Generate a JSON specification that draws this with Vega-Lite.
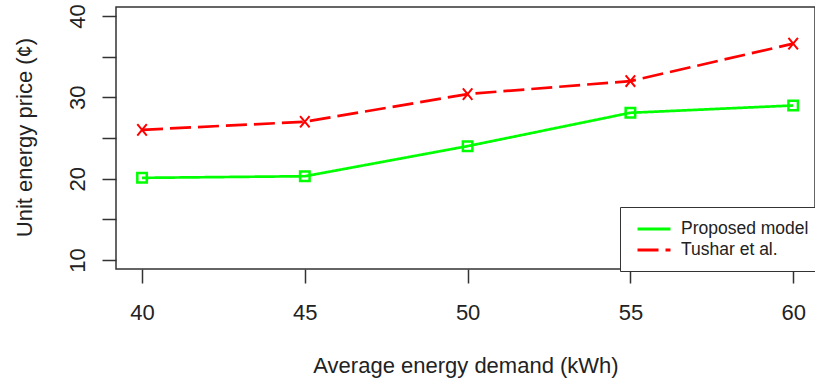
{
  "$schema": "https://vega.github.io/schema/vega-lite/v6.json",
  "autosize": {"type": "none"},
  "padding": {"left": 116, "top": 7, "right": 0, "bottom": 114},
  "width": 699,
  "height": 262,
  "background": "white",
  "config": {
    "view": {"stroke": "#333", "strokeWidth": 1.5},
    "font": "Liberation Sans"
  },
  "data": {
    "values": [
      {"demand": 40, "price": 20.1, "series": "Proposed model"},
      {"demand": 45, "price": 20.3, "series": "Proposed model"},
      {"demand": 50, "price": 24.0, "series": "Proposed model"},
      {"demand": 55, "price": 28.1, "series": "Proposed model"},
      {"demand": 60, "price": 29.0, "series": "Proposed model"},
      {"demand": 40, "price": 26.0, "series": "Tushar et al."},
      {"demand": 45, "price": 27.0, "series": "Tushar et al."},
      {"demand": 50, "price": 30.4, "series": "Tushar et al."},
      {"demand": 55, "price": 32.0, "series": "Tushar et al."},
      {"demand": 60, "price": 36.6, "series": "Tushar et al."}
    ]
  },
  "encoding": {
    "x": {
      "field": "demand", "type": "quantitative",
      "scale": {"domain": [39.2, 60.67], "nice": false, "zero": false},
      "axis": {
        "title": "Average energy demand (kWh)",
        "values": [40, 45, 50, 55, 60],
        "grid": false, "domain": false,
        "tickSize": 14, "tickWidth": 1.5, "tickColor": "#333",
        "labelFontSize": 22, "labelColor": "#222", "labelBaseline": "alphabetic", "labelPadding": 36,
        "labelFlush": false, "labelOverlap": false,
        "titleFontSize": 22, "titleFontWeight": "normal", "titleColor": "#222",
        "titleBaseline": "alphabetic", "titleY": 103
      }
    },
    "y": {
      "field": "price", "type": "quantitative",
      "scale": {"domain": [8.893, 41.107], "nice": false, "zero": false},
      "axis": {
        "title": "Unit energy price (¢)",
        "values": [10, 15, 20, 25, 30, 35, 40],
        "labelExpr": "datum.value % 10 == 0 ? datum.label : ''",
        "grid": false, "domain": false,
        "tickSize": 14, "tickWidth": 1.5, "tickColor": "#333",
        "labelFontSize": 22, "labelColor": "#222", "labelAngle": -90,
        "labelAlign": "center", "labelBaseline": "alphabetic", "labelPadding": 18,
        "labelFlush": false, "labelOverlap": false,
        "titleFontSize": 22, "titleFontWeight": "normal", "titleColor": "#222",
        "titleBaseline": "alphabetic", "titleX": -85, "titleY": 130, "titleAngle": -90
      }
    }
  },
  "layer": [
    {
      "mark": {"type": "line", "strokeWidth": 2.7},
      "encoding": {
        "color": {
          "field": "series", "type": "nominal",
          "scale": {"domain": ["Proposed model", "Tushar et al."], "range": ["#00ff00", "#ff0000"]},
          "legend": {
            "title": null,
            "orient": "none", "legendX": 504, "legendY": 200,
            "symbolType": "M-2,0H2", "symbolSize": 272, "symbolStrokeWidth": 3,
            "symbolOffset": 12,
            "labelFontSize": 17.5, "labelColor": "#222", "labelOffset": 17,
            "padding": 12, "rowPadding": 2,
            "strokeColor": "#333", "fillColor": "white", "cornerRadius": 0
          }
        },
        "strokeDash": {
          "field": "series", "type": "nominal",
          "scale": {"domain": ["Proposed model", "Tushar et al."], "range": [[1, 0], [21, 7]]},
          "legend": {
            "title": null,
            "orient": "none", "legendX": 504, "legendY": 200,
            "symbolType": "M-2,0H2", "symbolSize": 272, "symbolStrokeWidth": 3,
            "symbolOffset": 12,
            "labelFontSize": 17.5, "labelColor": "#222", "labelOffset": 17,
            "padding": 12, "rowPadding": 2,
            "strokeColor": "#333", "fillColor": "white", "cornerRadius": 0
          }
        }
      }
    },
    {
      "transform": [{"filter": "datum.series == 'Proposed model'"}],
      "mark": {"type": "point", "filled": false, "shape": "square", "color": "#00ff00", "strokeWidth": 2.5, "size": 90, "opacity": 1}
    },
    {
      "transform": [{"filter": "datum.series == 'Tushar et al.'"}],
      "mark": {"type": "point", "filled": false, "shape": "M-1,-1.2L1,1.2M-1,1.2L1,-1.2", "color": "#ff0000", "strokeWidth": 2, "size": 90, "opacity": 1}
    }
  ]
}
